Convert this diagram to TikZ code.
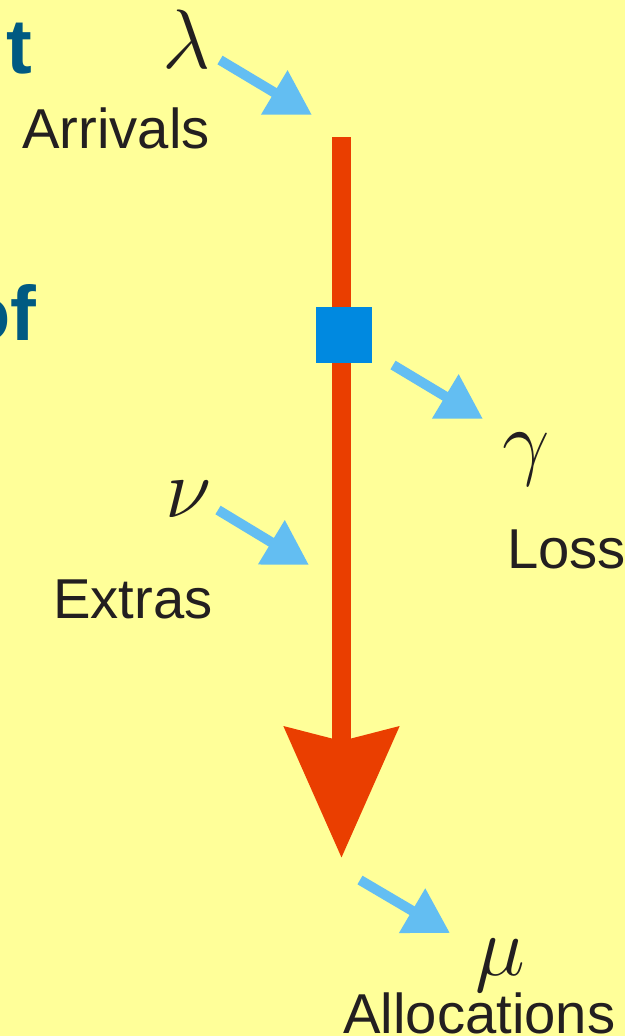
\RequirePackage{fix-cm}
\documentclass[tikz,border=0pt]{standalone}
\usepackage{fontspec}
\setmainfont{Liberation Sans}
\usetikzlibrary{arrows.meta}

\definecolor{bgyellow}{RGB}{255,255,153}
\definecolor{flowred}{RGB}{234,62,0}
\definecolor{gateblue}{RGB}{0,137,224}
\definecolor{feedblue}{RGB}{99,190,242}
\definecolor{textdark}{RGB}{35,31,32}
\definecolor{titleblue}{RGB}{0,90,130}

\begin{document}
\begin{tikzpicture}[
    x=0.02cm, y=-0.02cm,
    label/.style={anchor=base west, inner sep=0, text=textdark,
                  font=\fontsize{32}{32}\selectfont},
    rate/.style={anchor=base, inner sep=0, text=textdark,
                 font=\fontsize{48}{48}\selectfont},
    title/.style={anchor=base east, inner sep=0, text=titleblue,
                  font=\fontsize{44}{44}\selectfont\bfseries},
    flow/.style={line width=0.38cm, draw=flowred,
                 -{Stealth[length=2.6cm, width=2.24cm, inset=0.26cm, fill=flowred]}},
    feed/.style={line width=0.2cm, draw=feedblue,
                 -{Triangle[length=0.88cm, width=0.98cm, fill=feedblue]}},
    gate/.style={rectangle, fill=gateblue, inner sep=0, minimum size=1.12cm}
  ]
    \fill[bgyellow] (0,0) rectangle (625,1036);
    \useasboundingbox (0,0) rectangle (625,1036);

    % titles cut by the left edge
    \begin{scope}
      \clip (0,0) rectangle (625,1036);
      \node[title] (tpart) at (33,73) {t};
      \node[title] (ofpart) at (37,340) {of};
    \end{scope}

    % main flow
    \coordinate (flowtop) at (341.5,137);
    \coordinate (flowend) at (341.5,858);
    \draw[flow] (flowtop) -- (flowend);
    \node[gate] (box) at (344,335) {};

    % rates and labels
    \node[rate] (lam) at (187,68) {$\lambda$};
    \node[label] (arrivals) at (22,148) {Arrivals};
    \node[rate] (gam) at (526,469) {$\gamma$};
    \node[label] (loss) at (507,568) {Loss};
    \node[rate] (nu) at (189,517) {$\nu$};
    \node[label] (extras) at (53,618) {Extras};
    \node[rate] (mu) at (500,975) {$\mu$};
    \node[label] (allocs) at (343,1033) {Allocations};

    % feed arrows
    \coordinate (lamfrom) at (220,60);   \coordinate (lamto) at (312,115);
    \coordinate (gamfrom) at (393,365);  \coordinate (gamto) at (483,419);
    \coordinate (nufrom) at (218,510);   \coordinate (nuto) at (309,565);
    \coordinate (mufrom) at (360,880);   \coordinate (muto) at (450,933);
    \foreach \a/\b in {lamfrom/lamto, gamfrom/gamto, nufrom/nuto, mufrom/muto}
      \draw[feed] (\a) -- (\b);
\end{tikzpicture}
\end{document}
